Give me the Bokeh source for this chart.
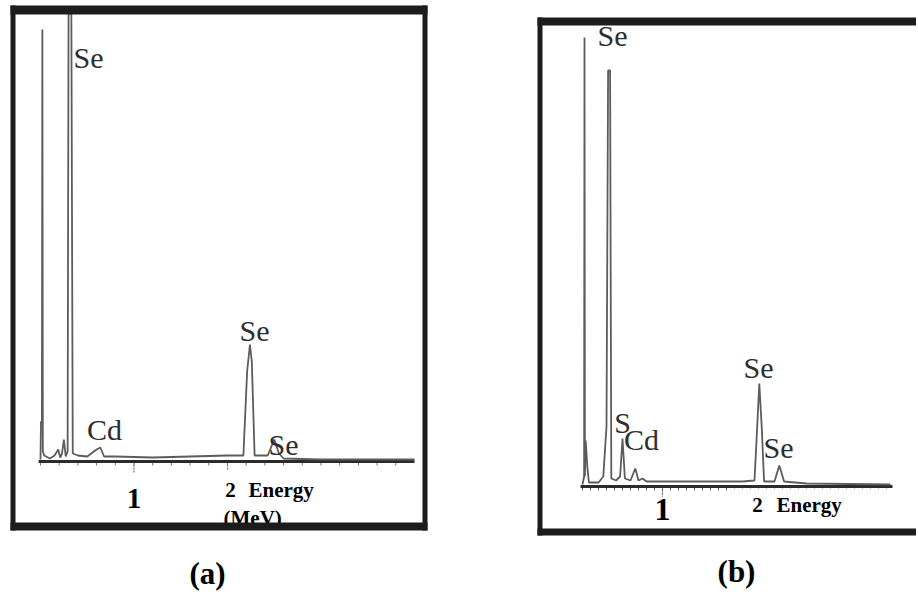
from bokeh.plotting import figure
from bokeh.layouts import row
from bokeh.models import Range1d
from bokeh.core.properties import value
from bokeh.embed import file_html
from bokeh.resources import INLINE

# ---------------- data ----------------
# Panel (a): EDX spectrum, energy vs counts (arbitrary units)
energy_a = [0.0, 0.005, 0.015, 0.02, 0.025, 0.04, 0.10, 0.15, 0.19, 0.21, 0.23, 0.25,
            0.27, 0.29, 0.30, 0.33, 0.345, 0.40, 0.50, 0.60, 0.64, 0.68, 0.80, 1.20,
            1.60, 2.00, 2.17, 2.21, 2.24, 2.26, 2.29, 2.43, 2.50, 2.55, 2.60, 3.00, 4.00]
counts_a = [2, 40, 38, 432, 10, 6, 3, 6, 12, 4, 8, 22,
            5, 10, 448, 448, 8, 6, 5, 12, 14, 5, 5, 4,
            5, 6, 6, 90, 117, 100, 6, 6, 22, 8, 3, 2, 2]
peak_names_a = ["Se", "Cd", "Se", "Se"]

# Panel (b)
energy_b = [0.0, 0.02, 0.025, 0.03, 0.04, 0.06, 0.08, 0.20, 0.26, 0.30, 0.32, 0.345,
            0.36, 0.42, 0.47, 0.50, 0.53, 0.60, 0.66, 0.70, 0.75, 0.80, 1.00, 1.50,
            2.00, 2.15, 2.19, 2.21, 2.24, 2.27, 2.40, 2.46, 2.52, 2.80, 3.85]
counts_b = [2, 10, 449, 10, 46, 20, 4, 4, 10, 60, 416, 416,
            8, 6, 10, 48, 8, 6, 18, 6, 8, 5, 5, 5,
            5, 6, 70, 103, 60, 5, 5, 21, 5, 3, 2]
peak_names_b = ["Se", "S", "Cd", "Se", "Se"]

tick_values = [1, 2]
tick_labels = ["1", "2"]
axis_end_a = 4.0
axis_end_b = 3.875
x_title = "Energy"
x_unit = "(MeV)"

# ---------------- layout / style ----------------
H = 592
TOP = 0
SERIF = value("Liberation Serif")
LINE_COL = "#5c5c5c"
INK = "#1c1c1c"


def make_panel(width, left_px, x0_px, scale, base_px):
    xs = (left_px - x0_px) / scale
    xe = (left_px + width - x0_px) / scale
    ys = base_px - (TOP + H)
    ye = base_px - TOP
    p = figure(width=width, height=H, output_backend="svg", toolbar_location=None,
               x_range=Range1d(xs, xe), y_range=Range1d(ys, ye),
               x_axis_location=None, y_axis_location=None, min_border=0)
    p.outline_line_color = None
    p.xgrid.visible = False
    p.ygrid.visible = False
    p.background_fill_color = "white"
    p.border_fill_color = "white"

    def X(px):
        return (px - x0_px) / scale

    def Y(py):
        return base_px - py
    return p, X, Y


def frame(p, X, Y, boxes):
    for (l, t, r, b) in boxes:
        p.quad(left=X(l), right=X(r), top=Y(t), bottom=Y(b),
               fill_color=INK, line_color=None)


# ---------- Panel (a) ----------
pa, Xa, Ya = make_panel(460, 0, 40, 93.5, 461)
minor_a = [round(0.2 * i, 2) for i in range(0, 20)]
pa.segment(x0=minor_a, y0=[0] * len(minor_a), x1=minor_a, y1=[-4] * len(minor_a),
           line_color="#777777", line_width=1)
pa.segment(x0=tick_values, y0=[0, 0], x1=tick_values, y1=[-11, -9],
           line_color="#777777", line_width=1.2, line_dash="2 1")
pa.line(x=[-0.02, axis_end_a], y=[0, 0], line_color="#2b2b2b", line_width=3)
pa.line(x=energy_a, y=counts_a, line_color=LINE_COL, line_width=1.8)
pa.text(x=[Xa(88), Xa(104), Xa(254), Xa(283)], y=[Ya(57), Ya(429), Ya(330), Ya(444)],
        text=peak_names_a, text_font=SERIF, text_font_size="30px",
        text_color="#2e2e2e", text_align="center", text_baseline="middle")
pa.text(x=tick_values, y=[Ya(498), Ya(489)], text=tick_labels,
        x_offset=[0, 3], text_font=SERIF, text_font_style="bold",
        text_font_size=["29px", "21px"], text_color="black",
        text_align="center", text_baseline="middle")
pa.text(x=[Xa(248)], y=[Ya(489)], text=[x_title], text_font=SERIF,
        text_font_style="bold", text_font_size="21px", text_color="black",
        text_align="left", text_baseline="middle")
pa.text(x=[Xa(223)], y=[Ya(517)], text=[x_unit], text_font=SERIF,
        text_font_style="bold", text_font_size="21px", text_color="black",
        text_align="left", text_baseline="middle")
frame(pa, Xa, Ya, [(10, 5, 427, 14), (10, 5, 15, 530), (422, 5, 427, 530), (10, 522, 427, 530)])
pa.text(x=[Xa(207)], y=[Ya(573)], text=["(a)"], text_font=SERIF, text_font_style="bold",
        text_font_size="31px", text_color="black", text_align="center", text_baseline="middle")

# ---------- Panel (b) ----------
pb, Xb, Yb = make_panel(456, 460, 582, 80.0, 486)
minor_b = [round(0.1 * i, 2) for i in range(0, 39)]
pb.segment(x0=minor_b, y0=[0] * len(minor_b), x1=minor_b, y1=[-4] * len(minor_b),
           line_color="#666666", line_width=1)
pb.segment(x0=tick_values, y0=[0, 0], x1=tick_values, y1=[-10, -10],
           line_color="#666666", line_width=1.2, line_dash="2 1")
pb.line(x=[-0.025, axis_end_b], y=[0, 0], line_color="#2b2b2b", line_width=3)
pb.line(x=energy_b, y=counts_b, line_color=LINE_COL, line_width=1.8)
pb.quad(left=Xb(727), right=Xb(930), top=Yb(488), bottom=Yb(523),
        fill_color="white", line_color=None)
pb.text(x=[Xb(612), Xb(622), Xb(641), Xb(758), Xb(778)],
        y=[Yb(35), Yb(422), Yb(439), Yb(367), Yb(447)],
        text=peak_names_b, text_font=SERIF, text_font_size="30px",
        text_color="#2e2e2e", text_align="center", text_baseline="middle")
pb.text(x=tick_values, y=[Yb(509), Yb(504)], text=tick_labels,
        x_offset=[0, 15], text_font=SERIF, text_font_style="bold",
        text_font_size=["32px", "21px"], text_color="black",
        text_align="center", text_baseline="middle")
pb.text(x=[Xb(776)], y=[Yb(504)], text=[x_title], text_font=SERIF,
        text_font_style="bold", text_font_size="21px", text_color="black",
        text_align="left", text_baseline="middle")
frame(pb, Xb, Yb, [(537, 17, 930, 25), (537, 17, 542, 535), (537, 528, 930, 535)])
pb.text(x=[Xb(736)], y=[Yb(571)], text=["(b)"], text_font=SERIF, text_font_style="bold",
        text_font_size="31px", text_color="black", text_align="center", text_baseline="middle")

layout = row(pa, pb, spacing=0)
open("out.html", "w").write(file_html(layout, INLINE))
